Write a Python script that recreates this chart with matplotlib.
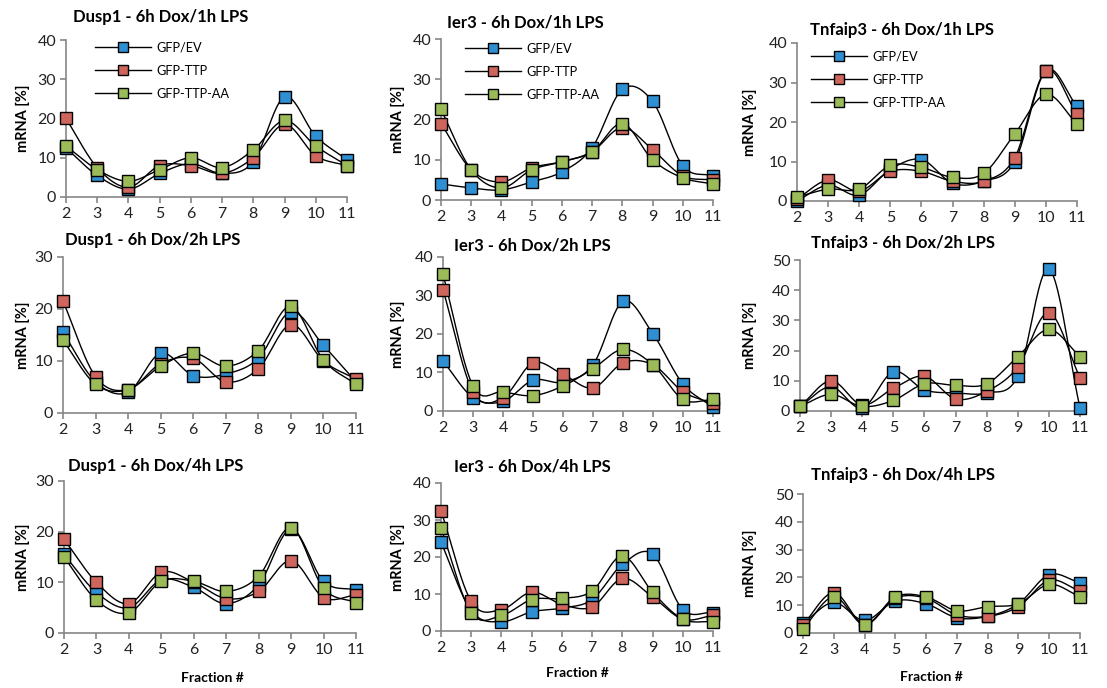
import numpy as np
import matplotlib
matplotlib.use("Agg")
import matplotlib.pyplot as plt
from matplotlib.lines import Line2D

plt.rcParams['font.family'] = ['Lato', 'DejaVu Sans']

fractions = [2, 3, 4, 5, 6, 7, 8, 9, 10, 11]
series_names = ["GFP/EV", "GFP-TTP", "GFP-TTP-AA"]
series_colors = ["#2E8FD2", "#CF665E", "#9BBB59"]

# Row 1: 1h LPS
dusp1_1h_ev = [12.5, 5.5, 2.0, 6.0, 8.5, 6.0, 9.0, 25.5, 15.5, 9.5]
dusp1_1h_ttp = [20.0, 7.5, 2.5, 8.0, 8.0, 6.0, 10.0, 18.5, 10.5, 8.0]
dusp1_1h_aa = [13.0, 7.0, 4.0, 7.0, 10.0, 7.5, 12.0, 19.5, 13.0, 8.0]

ier3_1h_ev = [4.0, 3.0, 2.5, 4.5, 7.0, 13.0, 27.5, 24.5, 8.5, 6.0]
ier3_1h_ttp = [19.0, 7.5, 4.5, 8.0, 9.5, 12.0, 18.0, 12.5, 6.0, 5.0]
ier3_1h_aa = [22.5, 7.5, 3.0, 7.5, 9.5, 12.0, 19.0, 10.0, 5.5, 4.0]

tnf_1h_ev = [0.0, 4.0, 1.5, 8.0, 10.5, 4.5, 5.0, 10.0, 33.0, 24.0]
tnf_1h_ttp = [0.5, 5.3, 2.5, 7.5, 7.5, 5.0, 5.0, 11.0, 33.0, 22.0]
tnf_1h_aa = [1.0, 3.0, 3.0, 9.0, 8.5, 6.0, 7.0, 17.0, 27.0, 19.5]

# Row 2: 2h LPS
dusp1_2h_ev = [15.5, 6.0, 4.0, 11.5, 7.2, 7.5, 10.5, 19.5, 13.0, 6.0]
dusp1_2h_ttp = [21.5, 7.0, 4.5, 9.5, 10.5, 6.0, 8.5, 17.0, 10.0, 6.5]
dusp1_2h_aa = [14.0, 5.5, 4.5, 9.0, 11.5, 9.0, 12.0, 20.5, 10.2, 5.5]

ier3_2h_ev = [13.0, 3.5, 2.5, 8.0, 7.5, 12.0, 28.5, 20.0, 7.0, 1.0]
ier3_2h_ttp = [31.5, 5.0, 3.5, 12.5, 9.5, 6.0, 12.5, 12.0, 5.0, 2.0]
ier3_2h_aa = [35.5, 6.5, 5.0, 4.0, 6.5, 11.0, 16.0, 12.0, 3.0, 3.0]

tnf_2h_ev = [1.5, 8.0, 1.0, 13.0, 7.0, 6.0, 6.0, 11.5, 47.0, 1.0]
tnf_2h_ttp = [1.5, 10.0, 2.0, 7.5, 11.5, 4.0, 6.5, 14.5, 32.5, 11.0]
tnf_2h_aa = [1.5, 5.5, 1.5, 3.5, 9.0, 8.5, 9.0, 18.0, 27.0, 18.0]

# Row 3: 4h LPS
dusp1_4h_ev = [15.5, 8.0, 5.0, 10.5, 9.0, 5.8, 9.5, 20.5, 10.2, 8.5]
dusp1_4h_ttp = [18.5, 10.0, 5.8, 12.0, 10.0, 6.8, 8.2, 14.3, 7.0, 7.5]
dusp1_4h_aa = [15.0, 6.5, 4.0, 10.2, 10.2, 8.2, 11.2, 20.8, 8.8, 6.0]

ier3_4h_ev = [24.0, 5.5, 2.5, 5.2, 6.2, 8.5, 18.0, 20.8, 5.8, 5.0]
ier3_4h_ttp = [32.5, 8.0, 5.8, 10.5, 7.2, 6.5, 14.2, 9.2, 3.2, 4.2]
ier3_4h_aa = [27.8, 5.0, 4.2, 8.5, 8.8, 10.8, 20.3, 10.5, 3.2, 2.5]

tnf_4h_ev = [3.5, 11.0, 4.5, 11.5, 10.5, 5.5, 6.0, 10.5, 21.0, 18.0]
tnf_4h_ttp = [3.0, 14.5, 3.0, 12.5, 12.5, 6.5, 6.0, 9.5, 19.0, 15.0]
tnf_4h_aa = [1.5, 13.0, 3.0, 13.0, 13.0, 8.0, 9.5, 10.5, 17.5, 13.0]

titles = [
    ["Dusp1 - 6h Dox/1h LPS", "Ier3 - 6h Dox/1h LPS", "Tnfaip3 - 6h Dox/1h LPS"],
    ["Dusp1 - 6h Dox/2h LPS", "Ier3 - 6h Dox/2h LPS", "Tnfaip3 - 6h Dox/2h LPS"],
    ["Dusp1 - 6h Dox/4h LPS", "Ier3 - 6h Dox/4h LPS", "Tnfaip3 - 6h Dox/4h LPS"],
]
ymax = [[40, 40, 40], [30, 40, 50], [30, 40, 50]]
data = [
    [(dusp1_1h_ev, dusp1_1h_ttp, dusp1_1h_aa), (ier3_1h_ev, ier3_1h_ttp, ier3_1h_aa), (tnf_1h_ev, tnf_1h_ttp, tnf_1h_aa)],
    [(dusp1_2h_ev, dusp1_2h_ttp, dusp1_2h_aa), (ier3_2h_ev, ier3_2h_ttp, ier3_2h_aa), (tnf_2h_ev, tnf_2h_ttp, tnf_2h_aa)],
    [(dusp1_4h_ev, dusp1_4h_ttp, dusp1_4h_aa), (ier3_4h_ev, ier3_4h_ttp, ier3_4h_aa), (tnf_4h_ev, tnf_4h_ttp, tnf_4h_aa)],
]

W, H = 1107, 688
fig = plt.figure(figsize=(W / 100, H / 100), dpi=100)

# axes boxes in pixels: (x_left, y_top, x_right, y_bottom)
boxes = [
    [(66, 40, 347, 197), (441, 39, 713, 200), (797, 43, 1077, 201)],
    [(63, 257, 356, 413), (443, 257, 713, 411), (800, 260, 1080, 411)],
    [(64, 481, 356, 633), (441, 483, 713, 631), (803, 494, 1080, 633)],
]
title_pos = [
    [(161, 17), (525, 22), (902, 30)],
    [(153, 240), (532, 245), (903, 243)],
    [(156, 466), (532, 467), (903, 475)],
]
ylabel_x = [23, 398, 750]
xlabel_pos = [(212, 678), (577, 673), (931, 677)]
legend_pos = [(86, 33), (456, 34), (802, 42)]

AXC = "#868686"


def smooth(x, y, n=24):
    """Catmull-Rom style smoothing of the polyline (like Excel smoothed lines)."""
    x = np.asarray(x, float)
    y = np.asarray(y, float)
    px = np.concatenate([[2 * x[0] - x[1]], x, [2 * x[-1] - x[-2]]])
    py = np.concatenate([[2 * y[0] - y[1]], y, [2 * y[-1] - y[-2]]])
    xs, ys = [], []
    t = np.linspace(0, 1, n, endpoint=False)
    for i in range(1, len(px) - 2):
        p0, p1, p2, p3 = [np.array([px[j], py[j]]) for j in (i - 1, i, i + 1, i + 2)]
        t2, t3 = t * t, t * t * t
        pts = 0.5 * ((2 * p1)[:, None] + (-p0 + p2)[:, None] * t
                     + (2 * p0 - 5 * p1 + 4 * p2 - p3)[:, None] * t2
                     + (-p0 + 3 * p1 - 3 * p2 + p3)[:, None] * t3)
        xs.append(pts[0])
        ys.append(pts[1])
    xs.append([x[-1]])
    ys.append([y[-1]])
    return np.concatenate(xs), np.concatenate(ys)


for r in range(3):
    for c in range(3):
        xl, yt, xr, yb = boxes[r][c]
        ax = fig.add_axes([xl / W, 1 - yb / H, (xr - xl) / W, (yb - yt) / H])
        for s in range(3):
            vals = data[r][c][s]
            sx, sy = smooth(fractions, vals)
            ax.plot(sx, sy, color="black", lw=1.0, zorder=2)
        for s in range(3):
            vals = data[r][c][s]
            ax.plot(fractions, vals, linestyle="none", marker="s", markersize=8.8,
                    markerfacecolor=series_colors[s], markeredgecolor="black",
                    markeredgewidth=1.0, zorder=3 + s, clip_on=False)
        ax.set_xlim(2, 11)
        ax.set_ylim(0, ymax[r][c])
        ax.set_xticks(fractions)
        ax.set_xticklabels([str(f) for f in fractions])
        ax.set_yticks(np.arange(0, ymax[r][c] + 1, 10))
        for sp in ("top", "right"):
            ax.spines[sp].set_visible(False)
        for sp in ("left", "bottom"):
            ax.spines[sp].set_color(AXC)
            ax.spines[sp].set_linewidth(1.2)
        ax.tick_params(axis="both", colors=AXC, labelcolor="#222222", labelsize=11.5,
                       direction="out", length=4, width=1.2, pad=3)
        ax.patch.set_alpha(0)

        tx, ty = title_pos[r][c]
        fig.text(tx / W, 1 - ty / H, titles[r][c], ha="center", va="center",
                 fontsize=12, fontweight="bold", color="black")
        fig.text(ylabel_x[c] / W, 1 - ((yt + yb) / 2) / H, "mRNA [%]", rotation=90,
                 ha="center", va="center", fontsize=10.5, fontweight="bold")
        if r == 2:
            lx, ly = xlabel_pos[c]
            fig.text(lx / W, 1 - ly / H, "Fraction #", ha="center", va="center",
                     fontsize=10, fontweight="bold")
        if r == 0:
            handles = [Line2D([0], [0], color="black", lw=1.0, marker="s", markersize=6.5,
                              markerfacecolor=series_colors[s], markeredgecolor="black",
                              markeredgewidth=1.0) for s in range(3)]
            lx, ly = legend_pos[c]
            leg = ax.legend(handles, series_names, loc="upper left",
                            bbox_to_anchor=(lx / W, 1 - ly / H),
                            bbox_transform=fig.transFigure, frameon=False,
                            fontsize=9.2, handlelength=4.4, handletextpad=0.4,
                            labelspacing=0.85, borderpad=0.2)

fig.savefig("out.png", dpi=100)
